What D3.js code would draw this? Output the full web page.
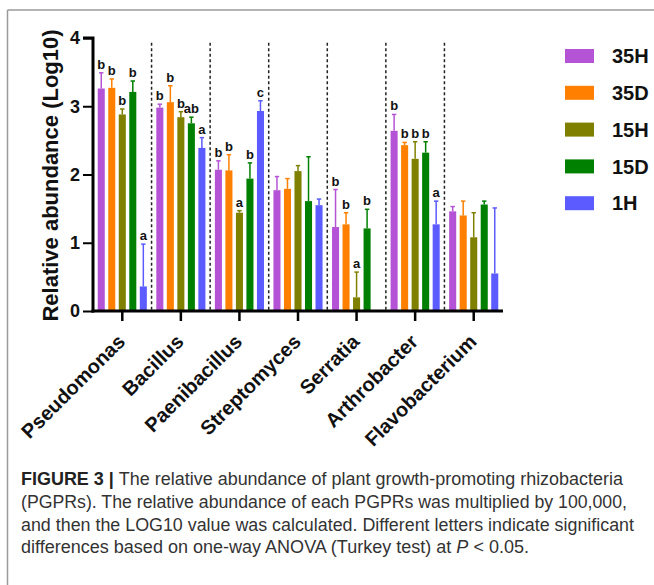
<!DOCTYPE html>
<html>
<head>
<meta charset="utf-8">
<script src="https://cdn.jsdelivr.net/npm/d3@7"></script>
<style>
  body { margin: 0; background: #fff; }
  text { font-family: "Liberation Sans", Arial, sans-serif; }
</style>
</head>
<body>
<svg id="chart" width="654" height="585"></svg>
<script>
// categories (genera) and treatment series
const genera = ["Pseudomonas", "Bacillus", "Paenibacillus", "Streptomyces", "Serratia", "Arthrobacter", "Flavobacterium"];
const seriesNames = ["35H", "35D", "15H", "15D", "1H"];
const seriesColors = ["#b553d6", "#ff8000", "#808000", "#008000", "#5b5bff"];

// mean values (Log10), one array per series, in genera order
const values35H = [3.26, 2.98, 2.07, 1.77, 1.23, 2.64, 1.46];
const values35D = [3.27, 3.06, 2.06, 1.79, 1.27, 2.43, 1.40];
const values15H = [2.88, 2.84, 1.44, 2.05, 0.20, 2.23, 1.08];
const values15D = [3.21, 2.75, 1.94, 1.61, 1.21, 2.32, 1.56];
const values1H  = [0.36, 2.39, 2.93, 1.55, null, 1.27, 0.55];

// upper error bar length
const errors35H = [0.23, 0.05, 0.13, 0.20, 0.55, 0.24, 0.07];
const errors35D = [0.13, 0.24, 0.23, 0.15, 0.17, 0.04, 0.21];
const errors15H = [0.08, 0.08, 0.03, 0.08, 0.37, 0.25, 0.36];
const errors15D = [0.16, 0.09, 0.23, 0.65, 0.28, 0.16, 0.05];
const errors1H  = [0.62, 0.15, 0.15, 0.09, null, 0.34, 0.96];

// significance letters
const letters35H = ["b", "b", "b", "", "b", "b", ""];
const letters35D = ["b", "b", "b", "", "b", "b", ""];
const letters15H = ["b", "b", "a", "", "a", "b", ""];
const letters15D = ["b", "ab", "b", "", "b", "b", ""];
const letters1H  = ["a", "a", "c", "", "", "a", ""];

const yTicks = [0, 1, 2, 3, 4];

const captionLines = [
    "The relative abundance of plant growth-promoting rhizobacteria",
    "(PGPRs). The relative abundance of each PGPRs was multiplied by 100,000,",
    "and then the LOG10 value was calculated. Different letters indicate significant",
    "differences based on one-way ANOVA (Turkey test) at "
];

const allValues = [values35H, values35D, values15H, values15D, values1H];
const allErrors = [errors35H, errors35D, errors15H, errors15D, errors1H];
const allLetters = [letters35H, letters35D, letters15H, letters15D, letters1H];

// flatten into rows for binding
const rows = [];
genera.forEach((g, i) => {
    seriesNames.forEach((s, j) => {
        rows.push({ genus: g, series: s, idx: j, value: allValues[j][i], err: allErrors[j][i], letter: allLetters[j][i] });
    });
});

const svg = d3.select("#chart");
const margin = { top: 38, left: 93, right: 151, bottom: 274 };
const x0 = margin.left, x1 = 654 - margin.right;
const yTop = margin.top, yBottom = 585 - margin.bottom;

const xScale = d3.scaleBand().domain(genera).range([x0, x1]).padding(0);
const xInner = d3.scaleBand().domain(seriesNames).range([0, xScale.bandwidth()])
    .paddingInner(0.33).paddingOuter(0.45);
const yScale = d3.scaleLinear().domain([0, 4]).range([yBottom, yTop]);
const color = d3.scaleOrdinal().domain(seriesNames).range(seriesColors);

// figure frame (left and top border of the article box)
svg.append("line").attr("x1", 7.5).attr("x2", 7.5).attr("y1", 10).attr("y2", 585)
    .attr("stroke", "#9a9a9a").attr("stroke-width", 1.5);
svg.append("line").attr("x1", 7.5).attr("x2", 654).attr("y1", 10).attr("y2", 10)
    .attr("stroke", "#9a9a9a").attr("stroke-width", 1.5);

// dashed separators between genera
svg.append("g").selectAll("line")
    .data(genera.slice(1))
    .enter().append("line")
    .attr("x1", d => xScale(d)).attr("x2", d => xScale(d))
    .attr("y1", yScale(3.93)).attr("y2", yBottom)
    .attr("stroke", "#222").attr("stroke-width", 1.5)
    .attr("stroke-dasharray", "3,2.5");

// bars
const groups = svg.append("g").selectAll("g")
    .data(rows.filter(d => d.value != null))
    .enter().append("g")
    .attr("transform", d => `translate(${xScale(d.genus) + xInner(d.series)},0)`);

const bw = xInner.bandwidth();

groups.append("rect")
    .attr("x", 0)
    .attr("y", d => yScale(d.value))
    .attr("width", bw)
    .attr("height", d => yBottom - yScale(d.value))
    .attr("fill", d => color(d.series));

// error bars (upper only)
groups.append("line")
    .attr("x1", bw / 2).attr("x2", bw / 2)
    .attr("y1", d => yScale(d.value))
    .attr("y2", d => yScale(d.value + d.err))
    .attr("stroke", d => color(d.series)).attr("stroke-width", 1.5);
groups.append("line")
    .attr("x1", bw / 2 - 2.2).attr("x2", bw / 2 + 2.2)
    .attr("y1", d => yScale(d.value + d.err))
    .attr("y2", d => yScale(d.value + d.err))
    .attr("stroke", d => color(d.series)).attr("stroke-width", 1.5);

// significance letters
groups.filter(d => d.letter).append("text")
    .attr("x", bw / 2)
    .attr("y", d => yScale(d.value + d.err) - 4)
    .attr("text-anchor", "middle")
    .attr("font-size", 13).attr("font-weight", "bold")
    .attr("fill", "#111")
    .text(d => d.letter);

// y axis
const gy = svg.append("g")
    .attr("transform", `translate(${x0},0)`)
    .call(d3.axisLeft(yScale).tickValues(yTicks).tickSize(10).tickPadding(3).tickFormat(d3.format("d")));
gy.select(".domain").attr("stroke-width", 3).attr("d", `M-10,${yTop}H0V${yBottom + 1.5}`);
gy.selectAll(".tick line").attr("stroke-width", 2);
gy.selectAll(".tick text").attr("font-size", 18).attr("font-weight", "bold")
    .attr("font-family", "Liberation Sans, Arial, sans-serif").attr("fill", "#111");

// x axis
const gx = svg.append("g")
    .attr("transform", `translate(0,${yBottom})`)
    .call(d3.axisBottom(xScale).tickSize(10).tickSizeOuter(0));
gx.select(".domain").attr("stroke-width", 3).attr("d", `M${x0 - 1.5},0H${x1}`);
gx.selectAll(".tick line").attr("stroke-width", 2.5);
gx.selectAll(".tick text")
    .attr("font-size", 20).attr("font-weight", "bold")
    .attr("font-family", "Liberation Sans, Arial, sans-serif").attr("fill", "#111")
    .attr("text-anchor", "end")
    .attr("transform", "translate(4,32) rotate(-45)")
    .attr("dy", 0).attr("y", 0);

// y axis title
svg.append("text")
    .attr("transform", `translate(58,${(yTop + yBottom) / 2 + 1}) rotate(-90)`)
    .attr("text-anchor", "middle")
    .attr("font-size", 22).attr("font-weight", "bold").attr("fill", "#111")
    .text("Relative abundance (Log10)");

// legend
const legend = svg.append("g").selectAll("g")
    .data(seriesNames)
    .enter().append("g")
    .attr("transform", (d, i) => `translate(565,${56 + i * 36.8})`);
legend.append("rect")
    .attr("x", 0).attr("y", -7).attr("width", 29).attr("height", 14)
    .attr("fill", d => color(d));
legend.append("text")
    .attr("x", 47).attr("y", 0).attr("dy", "0.36em")
    .attr("font-size", 20).attr("font-weight", "bold").attr("fill", "#111")
    .text(d => d);

// caption
const capWidths = [602, 606, 613, 508];
const capBase = [485, 508, 530.5, 553];
captionLines.forEach((line, i) => {
    const t = svg.append("text")
        .attr("x", 21).attr("y", capBase[i])
        .attr("font-size", 17.5).attr("fill", "#333")
        .attr("textLength", capWidths[i]).attr("lengthAdjust", "spacingAndGlyphs");
    if (i === 0) {
        t.append("tspan").attr("font-weight", "bold").attr("fill", "#222").text("FIGURE 3 | ");
    }
    t.append("tspan").text(line);
    if (i === 3) {
        t.append("tspan").attr("font-style", "italic").text("P");
        t.append("tspan").text(" < 0.05.");
    }
});
</script>
</body>
</html>
